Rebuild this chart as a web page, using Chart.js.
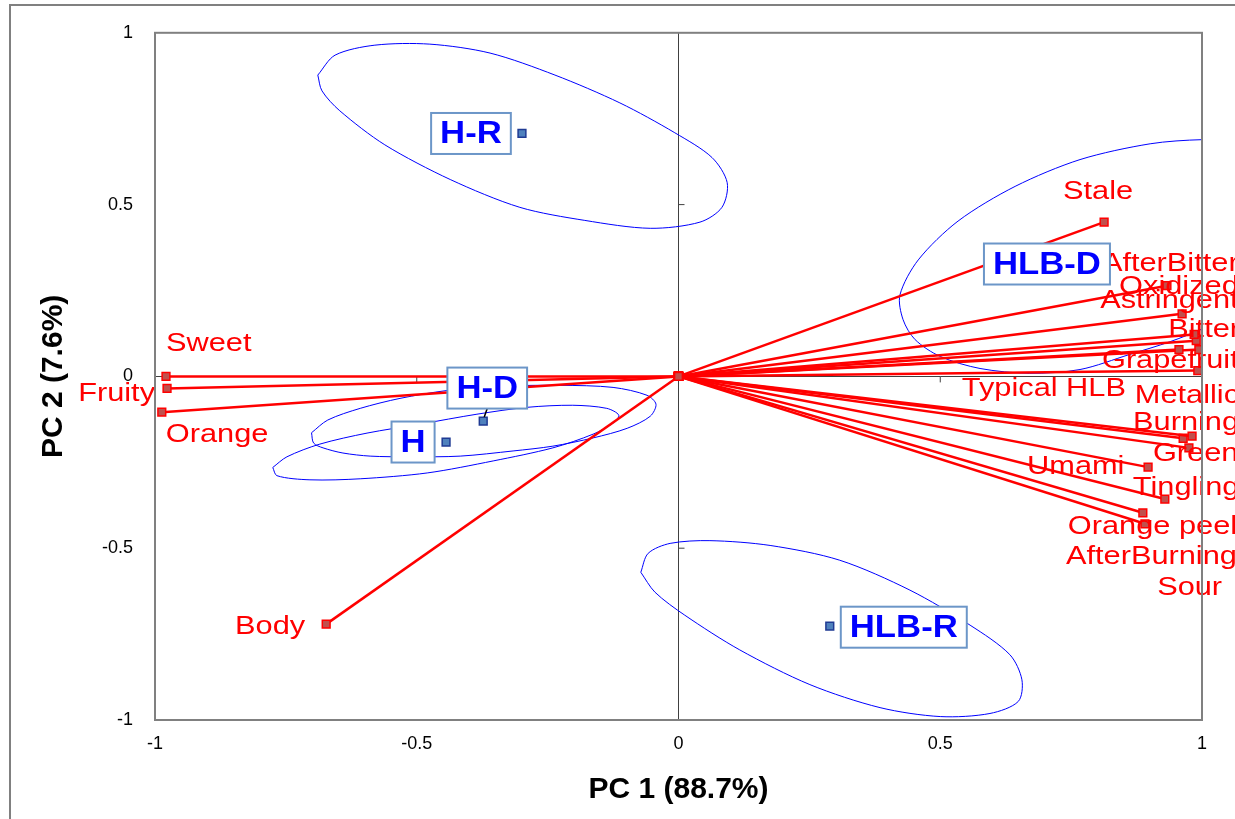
<!DOCTYPE html>
<html><head><meta charset="utf-8">
<script src="https://cdn.jsdelivr.net/npm/chart.js@4.4.1/dist/chart.umd.min.js"></script>
<style>html,body{margin:0;padding:0;background:#fff}</style>
</head><body>
<canvas id="c" width="1235" height="819"></canvas>
<script>
// ---- data ----
const attributes = ['Sweet','Fruity','Orange','Body','Stale','AfterBitter','Oxidized','Astringent','Bitter','Grapefruit','Typical HLB','Metallic','Burning','Green','Umami','Tingling','Orange peel','AfterBurning','Sour'];
const attrPC1 = [-0.979,-0.977,-0.987,-0.673,0.813,0.933,0.962,0.985,0.989,0.956,0.994,0.992,0.981,0.975,0.897,0.929,0.887,0.891,0.964];
const attrPC2 = [0.000,-0.035,-0.104,-0.721,0.449,0.264,0.182,0.122,0.104,0.078,0.078,0.017,-0.174,-0.208,-0.264,-0.357,-0.397,-0.429,-0.180];

const observations = ['H-R','H-D','H','HLB-D','HLB-R'];
const obsPC1 = [-0.299,-0.373,-0.444,0.700,0.289];
const obsPC2 = [0.707,-0.130,-0.191,0.330,-0.727];

// confidence ellipse outlines (vertices)
const ellHR_x = [-0.689,-0.656,-0.580,-0.475,-0.360,-0.236,-0.112,-0.007,0.064,0.093,0.083,0.041,-0.054,-0.179,-0.303,-0.436,-0.561,-0.647,-0.681,-0.689];
const ellHR_y = [0.877,0.935,0.964,0.967,0.941,0.877,0.796,0.709,0.637,0.564,0.492,0.449,0.431,0.454,0.492,0.573,0.674,0.773,0.831,0.877];
const ellHD_x = [-0.701,-0.670,-0.608,-0.532,-0.442,-0.354,-0.226,-0.125,-0.060,-0.043,-0.054,-0.098,-0.163,-0.240,-0.316,-0.417,-0.513,-0.589,-0.641,-0.679,-0.697,-0.701];
const ellHD_y = [-0.164,-0.127,-0.093,-0.064,-0.041,-0.029,-0.026,-0.032,-0.055,-0.081,-0.116,-0.151,-0.179,-0.203,-0.217,-0.232,-0.234,-0.232,-0.223,-0.208,-0.194,-0.164];
const ellH_x = [-0.775,-0.748,-0.685,-0.595,-0.494,-0.385,-0.289,-0.202,-0.137,-0.114,-0.125,-0.163,-0.240,-0.354,-0.480,-0.608,-0.704,-0.767,-0.775];
const ellH_y = [-0.265,-0.234,-0.197,-0.165,-0.139,-0.110,-0.090,-0.084,-0.093,-0.113,-0.136,-0.168,-0.208,-0.246,-0.281,-0.298,-0.301,-0.289,-0.265];
const ellHLBD_x = [1.111,1.000,0.901,0.767,0.643,0.534,0.458,0.423,0.429,0.452,0.500,0.576,0.671,0.767,0.862,0.939,1.002,1.111,1.187,1.111];
const ellHLBD_y = [0.686,0.689,0.677,0.631,0.553,0.452,0.339,0.237,0.165,0.107,0.058,0.023,0.009,0.020,0.064,0.101,0.139,0.217,0.507,0.686];
const ellHLBR_x = [-0.072,-0.058,-0.016,0.060,0.175,0.308,0.442,0.557,0.633,0.656,0.649,0.595,0.500,0.385,0.251,0.117,0.012,-0.045,-0.072];
const ellHLBR_y = [-0.570,-0.515,-0.486,-0.478,-0.492,-0.535,-0.622,-0.724,-0.810,-0.883,-0.946,-0.981,-0.990,-0.964,-0.897,-0.796,-0.695,-0.628,-0.570];

const axisTicks = [-1,-0.5,0,0.5,1];

// ---- label placement (pixel offsets from the marker; styling only) ----
const attrLabelOffset = {
  'Sweet':[0,-32,'left'],'Fruity':[-12,6,'right'],'Orange':[4,23,'left'],'Body':[-21,3,'right'],
  'Stale':[-6,-30,'center'],'AfterBitter':[-65,-22,'left'],'Oxidized':[-63,-27,'left'],
  'Astringent':[-94,-33,'left'],'Bitter':[-28,-11,'left'],'Grapefruit':[-77,12,'left'],
  'Typical HLB':[-237,40,'left'],'Metallic':[-63,26,'left'],'Burning':[-59,-13,'left'],
  'Green':[-36,6,'left'],'Umami':[-121,0,'left'],'Tingling':[-32,-11,'left'],
  'Orange peel':[-75,14,'left'],'AfterBurning':[-79,33,'left'],'Sour':[-26,150,'left']
};
const obsLabelOffset = {'H-R':[-51,0],'H-D':[4,-33],'H':[-33,0],'HLB-D':[2,1],'HLB-R':[74,1]};

// ---- datasets ----
const ds = [];
ds.push({
  label:'Observations', order:0,
  data: observations.map((n,i)=>({x:obsPC1[i], y:obsPC2[i]})),
  pointStyle:'rect', pointRadius:5.5, pointBackgroundColor:'#4F81BD', pointBorderColor:'#1F3A93', pointBorderWidth:1.5, showLine:false
});
attributes.forEach((n,i)=>{
  ds.push({
    label:n, order:1, isVector:true,
    data:[{x:0,y:0},{x:attrPC1[i], y:attrPC2[i]}],
    showLine:true, borderColor:'#FF0000', borderWidth:2.5,
    pointStyle:'rect', pointRadius:5.5, pointBackgroundColor:'#C0504D', pointBorderColor:'#FF0000', pointBorderWidth:1.5
  });
});
function ell(name, xs, ys){
  ds.push({label:name+' ellipse', order:2, data: xs.map((v,i)=>({x:v,y:ys[i]})),
    showLine:true, borderColor:'#0000FF', borderWidth:1, pointRadius:0, tension:0.3});
}
ell('H-R', ellHR_x, ellHR_y);
ell('H-D', ellHD_x, ellHD_y);
ell('H', ellH_x, ellH_y);
ell('HLB-D', ellHLBD_x, ellHLBD_y);
ell('HLB-R', ellHLBR_x, ellHLBR_y);

// ---- plugins ----
const framePlugin = {
  id:'frame',
  beforeDraw(chart){
    const c = chart.ctx; c.save();
    c.fillStyle='#fff'; c.fillRect(0,0,chart.width,chart.height);
    c.strokeStyle='#808080'; c.lineWidth=2;
    c.strokeRect(10,5,1400,1000);
    c.restore();
  },
  beforeDatasetsDraw(chart){
    const c = chart.ctx, xs = chart.scales.x, ys = chart.scales.y;
    const x0 = xs.getPixelForValue(0), y0 = ys.getPixelForValue(0);
    c.save(); c.strokeStyle='#404040'; c.lineWidth=1;
    [-0.5,0.5].forEach(v=>{
      const py = ys.getPixelForValue(v);
      c.beginPath(); c.moveTo(x0, py); c.lineTo(x0+6, py); c.stroke();
      const px = xs.getPixelForValue(v);
      c.beginPath(); c.moveTo(px, y0); c.lineTo(px, y0+6); c.stroke();
    });
    c.restore();
  },
  afterDraw(chart){
    const c = chart.ctx, a = chart.chartArea;
    c.save(); c.strokeStyle='#808080'; c.lineWidth=2;
    c.strokeRect(a.left, a.top, a.right-a.left, a.bottom-a.top);
    c.restore();
  }
};
const labelPlugin = {
  id:'labels',
  afterDatasetsDraw(chart){
    const c = chart.ctx;
    c.save();
    // attribute labels
    c.font = '25px "Liberation Sans", Arial, sans-serif';
    c.fillStyle = '#FF0000'; c.textBaseline='middle';
    chart.data.datasets.forEach((d,di)=>{
      if(!d.isVector) return;
      const el = chart.getDatasetMeta(di).data[1];
      const off = attrLabelOffset[d.label] || [5,-20,'left'];
      c.save();
      c.translate(el.x+off[0], el.y+off[1]);
      c.scale(1.23,1);
      c.textAlign = off[2];
      c.fillText(d.label, 0, 0);
      c.restore();
    });
    // observation labels in boxes
    const meta = chart.getDatasetMeta(0);
    c.font = 'bold 31px "Liberation Sans", Arial, sans-serif';
    observations.forEach((n,i)=>{
      const el = meta.data[i];
      const off = obsLabelOffset[n];
      const cx = el.x+off[0], cy = el.y+off[1];
      const tw = c.measureText(n).width*1.12;
      const w = tw+18, h = 41;
      if(n==='H-D'){
        c.strokeStyle='#000'; c.lineWidth=1.5;
        c.beginPath(); c.moveTo(el.x+1, el.y-4); c.lineTo(cx, cy+h/2); c.stroke();
      }
      c.fillStyle='#fff'; c.fillRect(cx-w/2, cy-h/2, w, h);
      c.strokeStyle='#6C96C8'; c.lineWidth=2; c.strokeRect(cx-w/2, cy-h/2, w, h);
      c.save(); c.translate(cx, cy+1); c.scale(1.12,1);
      c.fillStyle='#0000FF'; c.textAlign='center'; c.textBaseline='middle';
      c.fillText(n, 0, 0);
      c.restore();
    });
    c.restore();
  }
};

const tickFont = {family:'"Liberation Sans", Arial, sans-serif', size:18};
const titleFont = {family:'"Liberation Sans", Arial, sans-serif', size:30, weight:'bold'};
function fmt(v){ return String(v); }

new Chart(document.getElementById('c'), {
  type:'scatter',
  data:{datasets:ds},
  options:{
    responsive:false, animation:false, devicePixelRatio:1,
    layout:{padding:{left:0,right:33,top:29,bottom:0}},
    plugins:{legend:{display:false}, tooltip:{enabled:false}},
    scales:{
      x:{
        type:'linear', min:-1, max:1,
        afterBuildTicks(s){ s.ticks = axisTicks.map(v=>({value:v})); },
        afterFit(s){ s.height = 99; },
        ticks:{font:tickFont, color:'#000', padding:13, callback:fmt, maxRotation:0},
        grid:{drawTicks:false, lineWidth:1, color:c=>(c.tick && c.tick.value===0)?'#404040':'rgba(0,0,0,0)'},
        border:{display:false},
        title:{display:true, text:'PC 1 (88.7%)', font:titleFont, color:'#000', padding:{top:0,bottom:11}}
      },
      y:{
        type:'linear', min:-1, max:1,
        afterBuildTicks(s){ s.ticks = axisTicks.map(v=>({value:v})); },
        afterFit(s){ s.width = 155; },
        ticks:{font:tickFont, color:'#000', padding:22, callback:fmt},
        grid:{drawTicks:false, lineWidth:1, color:c=>(c.tick && c.tick.value===0)?'#404040':'rgba(0,0,0,0)'},
        border:{display:false},
        title:{display:true, text:'PC 2 (7.6%)', font:titleFont, color:'#000', padding:{top:36,bottom:0}}
      }
    }
  },
  plugins:[framePlugin, labelPlugin]
});
</script>
</body></html>
